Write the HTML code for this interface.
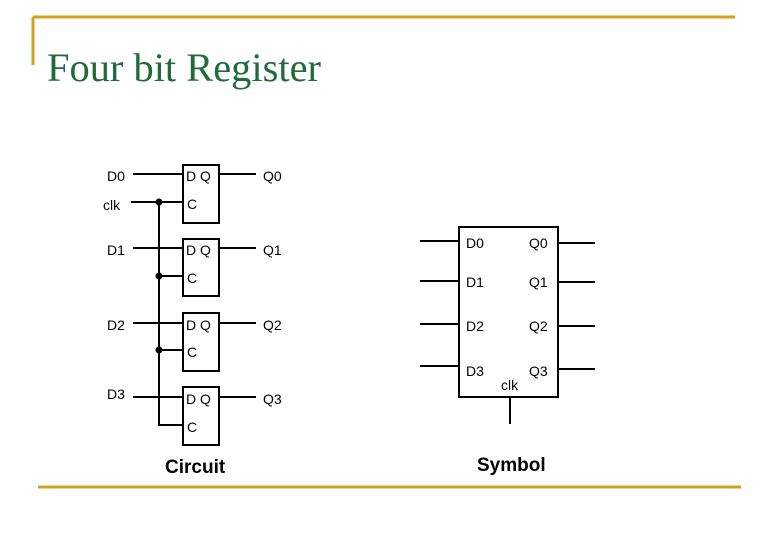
<!DOCTYPE html>
<html><head><style>
body{margin:0;width:780px;height:540px;background:#fff;overflow:hidden}
</style></head><body>
<svg width="780" height="540" xmlns="http://www.w3.org/2000/svg" font-family="Liberation Sans, sans-serif">
<line x1="33" y1="17" x2="735" y2="17" stroke="#d2a11c" stroke-width="3"/>
<line x1="33" y1="17" x2="33" y2="65" stroke="#d2a11c" stroke-width="3"/>
<line x1="38" y1="487" x2="741" y2="487" stroke="#d2a11c" stroke-width="3"/>
<text x="47" y="81" font-family="Liberation Serif, serif" font-size="40" fill="#1f6b3a" textLength="274" lengthAdjust="spacingAndGlyphs">Four bit Register</text>
<g stroke="#000" stroke-width="2" fill="none">
<rect x="183" y="165" width="36" height="58"/>
<rect x="183" y="239" width="36" height="57"/>
<rect x="183" y="313" width="36" height="58"/>
<rect x="183" y="387" width="36" height="58"/>
<line x1="133" y1="174" x2="183" y2="174"/>
<line x1="133" y1="248" x2="183" y2="248"/>
<line x1="133" y1="323" x2="183" y2="323"/>
<line x1="133" y1="397" x2="183" y2="397"/>
<line x1="219" y1="174" x2="256" y2="174"/>
<line x1="219" y1="248" x2="256" y2="248"/>
<line x1="219" y1="323" x2="256" y2="323"/>
<line x1="219" y1="397" x2="256" y2="397"/>
<line x1="131" y1="202" x2="183" y2="202"/>
<polyline points="159,202 159,425 183,425"/>
<line x1="159" y1="276" x2="183" y2="276"/>
<line x1="159" y1="350" x2="183" y2="350"/>
<rect x="459" y="227" width="99" height="170"/>
<line x1="420" y1="241" x2="459" y2="241"/>
<line x1="420" y1="281" x2="459" y2="281"/>
<line x1="420" y1="324" x2="459" y2="324"/>
<line x1="420" y1="366" x2="459" y2="366"/>
<line x1="558" y1="243" x2="595" y2="243"/>
<line x1="558" y1="282" x2="595" y2="282"/>
<line x1="558" y1="326" x2="595" y2="326"/>
<line x1="558" y1="369" x2="595" y2="369"/>
<line x1="510" y1="397" x2="510" y2="424"/>
</g>
<g fill="#000"><circle cx="159" cy="202" r="3.5"/><circle cx="159" cy="276" r="3.5"/><circle cx="159" cy="350" r="3.5"/></g>
<g font-size="14" fill="#000">
<text x="107" y="181">D0</text><text x="103" y="210">clk</text>
<text x="107" y="255">D1</text><text x="107" y="330">D2</text><text x="107" y="399">D3</text>
<text x="186" y="181">D Q</text><text x="186" y="255">D Q</text><text x="186" y="330">D Q</text><text x="186" y="404">D Q</text>
<text x="187" y="209">C</text><text x="187" y="283">C</text><text x="187" y="357">C</text><text x="187" y="432">C</text>
<text x="263" y="181">Q0</text><text x="263" y="255">Q1</text><text x="263" y="330">Q2</text><text x="263" y="404">Q3</text>
<text x="466" y="248">D0</text><text x="466" y="287">D1</text><text x="466" y="331">D2</text><text x="466" y="376">D3</text>
<text x="529" y="248">Q0</text><text x="529" y="287">Q1</text><text x="529" y="331">Q2</text><text x="529" y="376">Q3</text>
<text x="501" y="390">clk</text>
</g>
<text x="165" y="473" font-size="19" font-weight="bold">Circuit</text>
<text x="477" y="471" font-size="19" font-weight="bold">Symbol</text>
</svg>
</body></html>
